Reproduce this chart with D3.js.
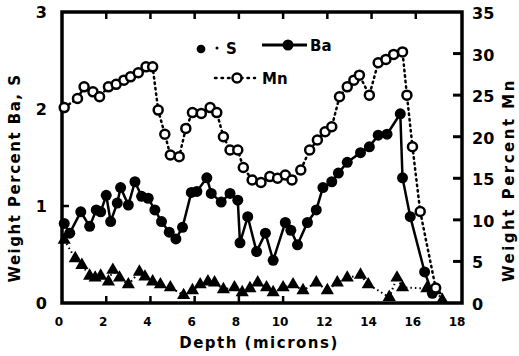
<!DOCTYPE html>
<html>
<head>
<meta charset="utf-8">
<script src="https://cdn.jsdelivr.net/npm/d3@7"></script>
<style>
  body { margin: 0; background: #fff; }
  svg text { font-family: "DejaVu Sans", "Liberation Sans", sans-serif; font-weight: bold; fill: #000; }
</style>
</head>
<body>
<div id="chart"></div>
<script>
// depth (microns) / weight percent
var baDepth = [0.1,0.35,0.85,1.25,1.55,1.75,2.0,2.2,2.5,2.65,3.0,3.3,3.6,3.9,4.2,4.5,4.85,5.15,5.45,5.85,6.1,6.55,6.75,7.2,7.6,7.95,8.05,8.4,8.8,9.2,9.55,10.1,10.35,10.65,11.1,11.5,11.8,12.2,12.5,12.9,13.5,13.9,14.3,14.7,15.3,15.4,15.75,16.4,16.75];
var baValue = [0.82,0.72,0.94,0.79,0.96,0.94,1.11,0.84,1.03,1.19,1.01,1.25,1.10,1.08,0.96,0.84,0.73,0.66,0.78,1.14,1.15,1.29,1.13,1.04,1.13,1.06,0.62,0.89,0.53,0.72,0.44,0.83,0.75,0.60,0.83,0.96,1.19,1.25,1.34,1.45,1.55,1.61,1.73,1.74,1.95,1.29,0.89,0.32,0.10];

var sDepth = [0.1,0.6,0.9,1.25,1.5,1.75,2.1,2.3,2.6,3.0,3.5,3.75,4.1,4.45,4.9,5.5,5.9,6.25,6.6,6.9,7.3,7.8,8.15,8.5,8.85,9.25,9.55,10.0,10.45,10.9,11.5,12.0,12.45,12.9,13.5,13.85,14.8,15.15,15.4,16.5,16.9,17.2];
var sValue = [0.65,0.46,0.39,0.28,0.26,0.28,0.22,0.34,0.26,0.19,0.32,0.27,0.22,0.19,0.16,0.08,0.13,0.19,0.22,0.21,0.14,0.16,0.11,0.15,0.21,0.16,0.11,0.16,0.19,0.13,0.21,0.13,0.21,0.26,0.29,0.19,0.06,0.26,0.16,0.15,0.13,0.03];

var mnDepth = [0.1,0.7,1.0,1.4,1.7,2.1,2.45,2.8,3.1,3.45,3.8,4.1,4.35,4.65,4.9,5.3,5.6,5.9,6.3,6.7,7.0,7.3,7.6,7.95,8.2,8.6,9.0,9.4,9.75,10.1,10.4,10.8,11.2,11.55,11.9,12.2,12.55,12.9,13.2,13.45,13.9,14.3,14.65,15.0,15.4,15.6,15.85,16.2,16.9];
var mnValue = [23.5,24.6,26.0,25.4,24.8,26.0,26.3,26.8,27.2,27.7,28.4,28.4,23.2,20.3,17.8,17.6,21.0,22.9,22.8,23.5,22.9,20.0,18.4,18.4,16.3,14.8,14.5,15.2,15.0,15.4,14.8,16.0,18.4,19.6,20.6,21.2,24.8,26.0,26.8,27.4,25.0,28.9,29.3,29.9,30.2,25.0,18.8,11.0,1.8];

var xTicks = [0,2,4,6,8,10,12,14,16,18];
var leftTicks = [0,1,2,3];
var rightTicks = [0,5,10,15,20,25,30,35];

var width = 519, height = 356;
var pLeft = 62, pRight = 462, pTop = 12, pBottom = 303;

var svg = d3.select("#chart").append("svg")
  .attr("width", width)
  .attr("height", height);

var x = d3.scaleLinear().domain([0, 18]).range([pLeft, pRight - 2]);
var yL = d3.scaleLinear().domain([0, 3]).range([pBottom, pTop]);
var yR = d3.scaleLinear().domain([0, 35]).range([pBottom, pTop]);

// frame
svg.append("rect")
  .attr("x", pLeft).attr("y", pTop)
  .attr("width", pRight - pLeft).attr("height", pBottom - pTop)
  .attr("fill", "none").attr("stroke", "#000").attr("stroke-width", 3.5);

// inner tick marks
svg.selectAll(".tt").data(xTicks.filter(function (d) { return d > 0 && d < 18; }))
  .enter().append("line")
  .attr("x1", function (d) { return x(d); }).attr("x2", function (d) { return x(d); })
  .attr("y1", pTop).attr("y2", pTop + 7)
  .attr("stroke", "#000").attr("stroke-width", 2.5);
svg.selectAll(".bt").data([2, 4, 6, 8, 10])
  .enter().append("line")
  .attr("x1", function (d) { return x(d); }).attr("x2", function (d) { return x(d); })
  .attr("y1", pBottom).attr("y2", pBottom - 7)
  .attr("stroke", "#000").attr("stroke-width", 2.5);
svg.selectAll(".lt").data([1, 2])
  .enter().append("line")
  .attr("x1", pLeft).attr("x2", pLeft + 7)
  .attr("y1", function (d) { return yL(d); }).attr("y2", function (d) { return yL(d); })
  .attr("stroke", "#000").attr("stroke-width", 2.5);
svg.selectAll(".rt").data(rightTicks.filter(function (d) { return d > 0 && d < 35; }))
  .enter().append("line")
  .attr("x1", pRight - 9).attr("x2", pRight)
  .attr("y1", function (d) { return yR(d); }).attr("y2", function (d) { return yR(d); })
  .attr("stroke", "#000").attr("stroke-width", 3);

// tick labels
svg.selectAll(".xl").data(xTicks).enter().append("text")
  .attr("x", function (d) { return x(d) - 3; })
  .attr("y", 326)
  .attr("text-anchor", "middle")
  .style("font-size", "12px")
  .text(function (d) { return d; });
svg.selectAll(".yl").data(leftTicks).enter().append("text")
  .attr("x", 47)
  .attr("y", function (d) { return yL(d) + 6; })
  .attr("text-anchor", "end")
  .style("font-size", "16px")
  .text(function (d) { return d; });
svg.selectAll(".yr").data(rightTicks).enter().append("text")
  .attr("x", 472)
  .attr("y", function (d) { return yR(d) + 7; })
  .attr("text-anchor", "start")
  .style("font-size", "16px")
  .text(function (d) { return d; });

// axis titles
svg.append("text")
  .attr("transform", "translate(20,178) rotate(-90)")
  .attr("text-anchor", "middle")
  .style("font-size", "15px")
  .style("letter-spacing", "1.5px")
  .text("Weight Percent Ba, S");
svg.append("text")
  .attr("transform", "translate(514,180) rotate(-90)")
  .attr("text-anchor", "middle")
  .style("font-size", "15px")
  .style("letter-spacing", "2.5px")
  .text("Weight Percent Mn");
svg.append("text")
  .attr("x", 259).attr("y", 348)
  .attr("text-anchor", "middle")
  .style("font-size", "15px")
  .style("letter-spacing", "1.5px")
  .text("Depth   (microns)");

var ba = baDepth.map(function (d, i) { return [d, baValue[i]]; });
var s = sDepth.map(function (d, i) { return [d, sValue[i]]; });
var mn = mnDepth.map(function (d, i) { return [d, mnValue[i]]; });

// Mn dotted line (right axis)
svg.append("path")
  .datum(mn)
  .attr("d", d3.line().x(function (d) { return x(d[0]); }).y(function (d) { return yR(d[1]); }))
  .attr("fill", "none").attr("stroke", "#000")
  .attr("stroke-width", 2.5).attr("stroke-dasharray", "1.5,4").attr("stroke-linecap", "round");

// S triangles with dotted line (left axis)
svg.append("path")
  .datum(s)
  .attr("d", d3.line().x(function (d) { return x(d[0]); }).y(function (d) { return yL(d[1]); }))
  .attr("fill", "none").attr("stroke", "#000")
  .attr("stroke-width", 2).attr("stroke-dasharray", "1.5,3");
svg.selectAll(".s").data(s).enter().append("path")
  .attr("transform", function (d) { return "translate(" + x(d[0]) + "," + yL(d[1]) + ")"; })
  .attr("d", d3.symbol().type(d3.symbolTriangle).size(75))
  .attr("fill", "#000");

// Ba solid line + filled circles (left axis)
svg.append("path")
  .datum(ba)
  .attr("d", d3.line().x(function (d) { return x(d[0]); }).y(function (d) { return yL(d[1]); }))
  .attr("fill", "none").attr("stroke", "#000").attr("stroke-width", 2.5);
svg.selectAll(".ba").data(ba).enter().append("circle")
  .attr("cx", function (d) { return x(d[0]); })
  .attr("cy", function (d) { return yL(d[1]); })
  .attr("r", 5.5)
  .attr("fill", "#000");

// Mn open circles
svg.selectAll(".mn").data(mn).enter().append("circle")
  .attr("cx", function (d) { return x(d[0]); })
  .attr("cy", function (d) { return yR(d[1]); })
  .attr("r", 4.5)
  .attr("fill", "#fff").attr("stroke", "#000").attr("stroke-width", 2.5);

// legend
var lg = svg.append("g");
lg.append("path")
  .attr("transform", "translate(201,49)")
  .attr("d", d3.symbol().type(d3.symbolCircle).size(60))
  .attr("fill", "#000");
lg.append("circle").attr("cx", 217).attr("cy", 48).attr("r", 1.5).attr("fill", "#000");
lg.append("text").attr("x", 226).attr("y", 54).style("font-size", "15px").text("S");

lg.append("line").attr("x1", 262).attr("x2", 307).attr("y1", 45).attr("y2", 45)
  .attr("stroke", "#000").attr("stroke-width", 3);
lg.append("circle").attr("cx", 288).attr("cy", 45).attr("r", 5.5).attr("fill", "#000");
lg.append("text").attr("x", 310).attr("y", 51).style("font-size", "15px").text("Ba");

lg.append("line").attr("x1", 215).attr("x2", 255).attr("y1", 78).attr("y2", 78)
  .attr("stroke", "#000").attr("stroke-width", 2.5).attr("stroke-dasharray", "1.5,5").attr("stroke-linecap", "round");
lg.append("circle").attr("cx", 237).attr("cy", 78).attr("r", 4.5)
  .attr("fill", "#fff").attr("stroke", "#000").attr("stroke-width", 2.5);
lg.append("text").attr("x", 262).attr("y", 84).style("font-size", "15px").text("Mn");
</script>
</body>
</html>
